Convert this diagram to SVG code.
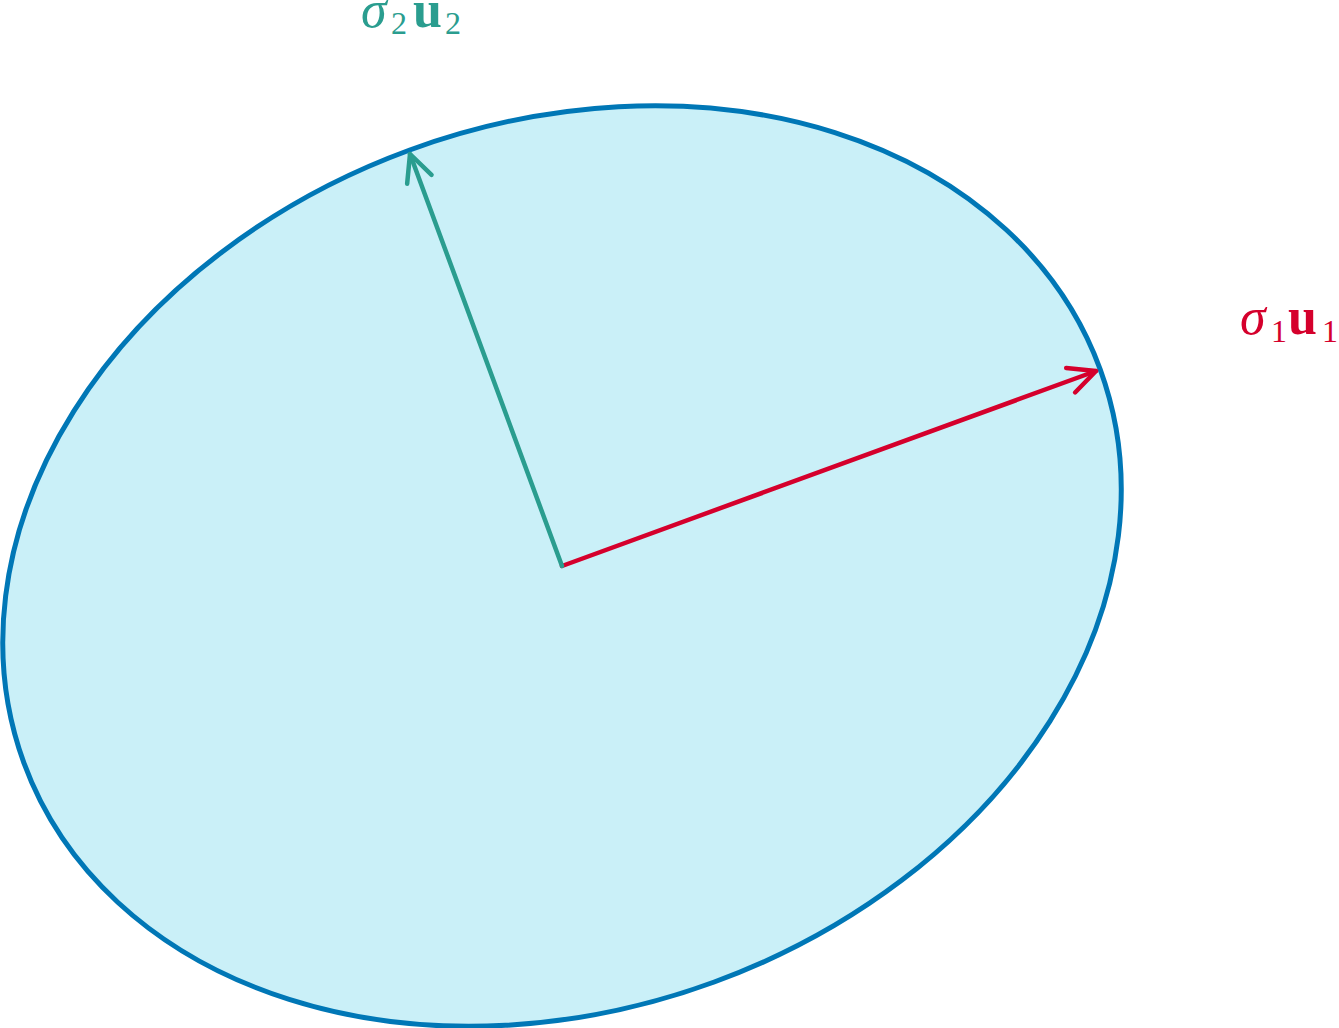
<svg xmlns="http://www.w3.org/2000/svg" width="1339" height="1028" viewBox="0 0 1339 1028">
<style>
.lbl{font-family:"Liberation Serif","DejaVu Serif",serif;font-size:52px}
.sig{font-style:italic}
.sub{font-size:32px}
.vec{font-weight:bold}
</style>
<defs>
<marker id="ahR" markerUnits="userSpaceOnUse" orient="auto" markerWidth="40" markerHeight="40" refX="0" refY="0" viewBox="-35 -20 40 40" overflow="visible">
<path d="M-27,-13 L0,0 L-27,13" fill="none" stroke="#d5002c" stroke-width="4.5" stroke-linecap="round" stroke-linejoin="round"/>
</marker>
<marker id="ahT" markerUnits="userSpaceOnUse" orient="auto" markerWidth="40" markerHeight="40" refX="0" refY="0" viewBox="-35 -20 40 40" overflow="visible">
<path d="M-27,-13 L0,0 L-27,13" fill="none" stroke="#2a9d8f" stroke-width="4.5" stroke-linecap="round" stroke-linejoin="round"/>
</marker>
</defs>
<rect width="1339" height="1028" fill="#ffffff"/>
<g id="ellipse">
<ellipse cx="562" cy="566" rx="573" ry="443" transform="rotate(-20.1 562 566)" fill="#caf0f8" stroke="#0077b6" stroke-width="5"/>
</g>
<g id="connectors">
<line x1="562" y1="566" x2="1096" y2="371" stroke="#d5002c" stroke-width="4.5" stroke-linecap="round" marker-end="url(#ahR)"/>
<line x1="562" y1="566" x2="410" y2="154" stroke="#2a9d8f" stroke-width="4.5" stroke-linecap="round" marker-end="url(#ahT)"/>
</g>
<g id="label-u1">
<text class="lbl" fill="#d5002c" y="334"><tspan class="sig" x="1240">σ</tspan><tspan class="sub" x="1271" y="342">1</tspan><tspan class="vec" x="1288" y="334">u</tspan><tspan class="sub" x="1322" y="342">1</tspan></text>
</g>
<g id="label-u2">
<text class="lbl" fill="#2a9d8f" y="27"><tspan class="sig" x="361">σ</tspan><tspan class="sub" x="391" y="34">2</tspan><tspan class="vec" x="413" y="27">u</tspan><tspan class="sub" x="445" y="34">2</tspan></text>
</g>
</svg>
